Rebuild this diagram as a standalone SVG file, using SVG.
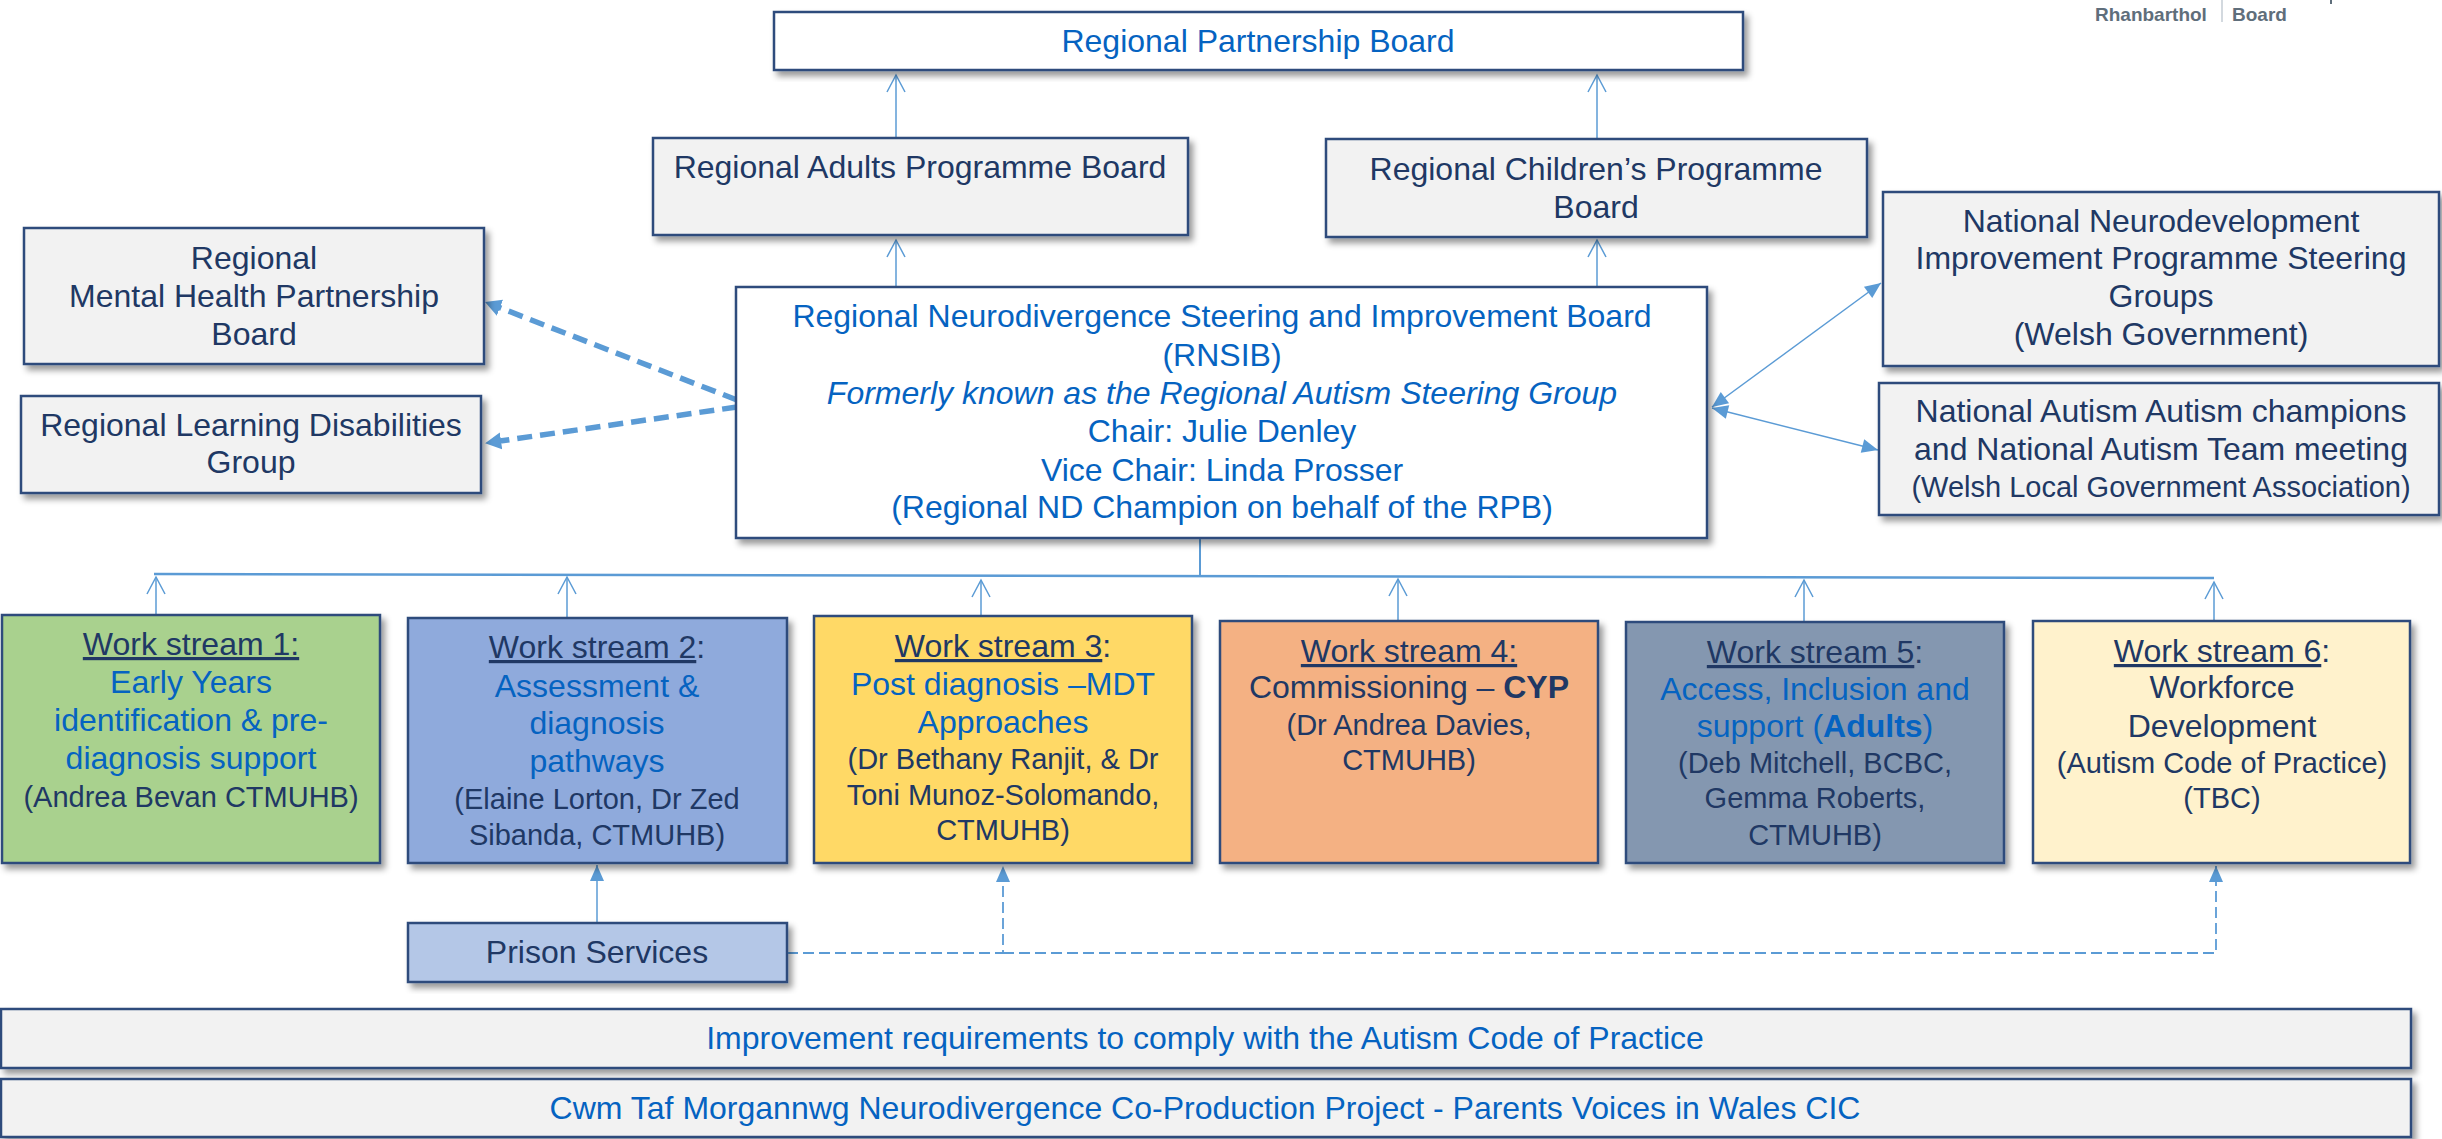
<svg xmlns="http://www.w3.org/2000/svg" width="2442" height="1139" viewBox="0 0 2442 1139">
  <defs>
    <filter id="sh" x="-5%" y="-10%" width="115%" height="130%">
      <feDropShadow dx="4" dy="5" stdDeviation="3" flood-color="#000" flood-opacity="0.4"/>
    </filter>
    <!-- open V head for the hierarchy lines -->
    <marker id="open" markerUnits="userSpaceOnUse" viewBox="-19 -11 21 22" markerWidth="21" markerHeight="22" refX="0" refY="0" orient="auto">
      <path d="M-17,-9 L0,0 L-17,9" fill="none" stroke="#5B9BD5" stroke-width="1.5"/>
    </marker>
    <!-- small filled head -->
    <marker id="fill" markerUnits="userSpaceOnUse" viewBox="-17 -9 18 18" markerWidth="18" markerHeight="18" refX="0" refY="0" orient="auto-start-reverse">
      <path d="M-16,-7 L0,0 L-16,7 Z" fill="#5B9BD5"/>
    </marker>
    <!-- large filled head for the thick dashed links -->
    <marker id="fat" markerUnits="userSpaceOnUse" viewBox="0 -10 18 20" markerWidth="18" markerHeight="20" refX="1" refY="0" orient="auto">
      <path d="M0,-8.5 L16,0 L0,8.5 Z" fill="#5B9BD5"/>
    </marker>
    <style>
      .box { stroke: #2F4B7C; stroke-width: 2.5; filter: url(#sh); }
      .w { fill: #FFFFFF; }
      .g { fill: #F2F2F2; }
      .t { font-family: "Liberation Sans", Arial, sans-serif; font-size: 32px; text-anchor: middle; }
      .s { font-size: 29px; }
      .b { fill: #0563C1; }
      .n { fill: #203864; }
      .u { text-decoration: underline; }
      .bold { font-weight: bold; }
      .ln { fill: none; stroke: #5B9BD5; stroke-width: 1.5; }
    </style>
  </defs>

  <!-- header mark -->
  <g id="header-mark" font-family="'Liberation Sans', Arial, sans-serif" font-weight="bold" font-size="19" fill="#5F6E7B">
    <text x="2095" y="21">Rhanbarthol</text>
    <line x1="2222" y1="0" x2="2222" y2="22" stroke="#C5CDD5" stroke-width="1.5"/>
    <text x="2232" y="21">Board</text>
    <rect x="2330" y="0" width="2" height="4"/>
  </g>

  <!-- connectors -->
  <g id="connectors">
    <path class="ln" d="M896,137 V75" marker-end="url(#open)"/>
    <path class="ln" d="M896,287 V240" marker-end="url(#open)"/>
    <path class="ln" d="M1597,139 V75" marker-end="url(#open)"/>
    <path class="ln" d="M1597,287 V240" marker-end="url(#open)"/>

    <path d="M737,400 L499,307.4" fill="none" stroke="#5B9BD5" stroke-width="5.5" stroke-dasharray="15 8" marker-end="url(#fat)"/>
    <path d="M737,407 L500,441" fill="none" stroke="#5B9BD5" stroke-width="5.5" stroke-dasharray="15 8" marker-end="url(#fat)"/>

    <path class="ln" d="M1712,407 L1881,283" marker-start="url(#fill)" marker-end="url(#fill)"/>
    <path class="ln" d="M1712,408 L1878,450" marker-start="url(#fill)" marker-end="url(#fill)"/>

    <path d="M1200,538 V575" fill="none" stroke="#5B9BD5" stroke-width="2"/>
    <path d="M154,574 L2214,578" fill="none" stroke="#5B9BD5" stroke-width="2.5"/>
    <path class="ln" d="M156,615 V577" marker-end="url(#open)"/>
    <path class="ln" d="M567,618 V577" marker-end="url(#open)"/>
    <path class="ln" d="M981,616 V580" marker-end="url(#open)"/>
    <path class="ln" d="M1398,621 V579" marker-end="url(#open)"/>
    <path class="ln" d="M1804,622 V580" marker-end="url(#open)"/>
    <path class="ln" d="M2214,621 V582" marker-end="url(#open)"/>

    <path class="ln" d="M597,923 V865" marker-end="url(#fill)"/>
    <path d="M787,953 H1003 V866" fill="none" stroke="#5B9BD5" stroke-width="1.8" stroke-dasharray="11 5" marker-end="url(#fill)"/>
    <path d="M1003,953 H2216 V866" fill="none" stroke="#5B9BD5" stroke-width="1.8" stroke-dasharray="11 5" marker-end="url(#fill)"/>
  </g>

  <g id="regional-partnership-board">
    <rect class="box w" x="774" y="12" width="969" height="58"/>
    <text class="t b" x="1258" y="52">Regional Partnership Board</text>
  </g>

  <g id="regional-adults-programme-board">
    <rect class="box g" x="653" y="138" width="535" height="97"/>
    <text class="t n" x="920" y="178">Regional Adults Programme Board</text>
  </g>

  <g id="regional-childrens-programme-board">
    <rect class="box g" x="1326" y="139" width="541" height="98"/>
    <text class="t n" x="1596" y="180">Regional Children’s Programme</text>
    <text class="t n" x="1596" y="218">Board</text>
  </g>

  <g id="mental-health-partnership-board">
    <rect class="box g" x="24" y="228" width="460" height="136"/>
    <text class="t n" x="254" y="269">Regional</text>
    <text class="t n" x="254" y="307">Mental Health Partnership</text>
    <text class="t n" x="254" y="345">Board</text>
  </g>

  <g id="learning-disabilities-group">
    <rect class="box g" x="21" y="396" width="460" height="97"/>
    <text class="t n" x="251" y="436">Regional Learning Disabilities</text>
    <text class="t n" x="251" y="473">Group</text>
  </g>

  <g id="rnsib">
    <rect class="box w" x="736" y="287" width="971" height="251"/>
    <text class="t b" x="1222" y="327">Regional Neurodivergence Steering and Improvement Board</text>
    <text class="t b" x="1222" y="366">(RNSIB)</text>
    <text class="t b" x="1222" y="404" font-style="italic">Formerly known as the Regional Autism Steering Group</text>
    <text class="t b" x="1222" y="442">Chair: Julie Denley</text>
    <text class="t b" x="1222" y="481">Vice Chair: Linda Prosser</text>
    <text class="t b" x="1222" y="518">(Regional ND Champion on behalf of the RPB)</text>
  </g>

  <g id="national-neurodevelopment">
    <rect class="box g" x="1883" y="192" width="556" height="174"/>
    <text class="t n" x="2161" y="232">National Neurodevelopment</text>
    <text class="t n" x="2161" y="269">Improvement Programme Steering</text>
    <text class="t n" x="2161" y="307">Groups</text>
    <text class="t n" x="2161" y="345">(Welsh Government)</text>
  </g>

  <g id="national-autism-champions">
    <rect class="box g" x="1879" y="383" width="560" height="132"/>
    <text class="t n" x="2161" y="422">National Autism Autism champions</text>
    <text class="t n" x="2161" y="460">and National Autism Team meeting</text>
    <text class="t n s" x="2161" y="497">(Welsh Local Government Association)</text>
  </g>

  <g id="work-stream-1">
    <rect class="box" fill="#A9D18E" x="2" y="615" width="378" height="248"/>
    <text class="t n" x="191" y="655"><tspan class="u">Work stream 1:</tspan></text>
    <text class="t b" x="191" y="693">Early Years</text>
    <text class="t b" x="191" y="731">identification &amp; pre-</text>
    <text class="t b" x="191" y="769">diagnosis support</text>
    <text class="t n s" x="191" y="807">(Andrea Bevan CTMUHB)</text>
  </g>

  <g id="work-stream-2">
    <rect class="box" fill="#8FAADC" x="408" y="618" width="379" height="245"/>
    <text class="t n" x="597" y="658"><tspan class="u">Work stream 2</tspan>:</text>
    <text class="t b" x="597" y="697">Assessment &amp;</text>
    <text class="t b" x="597" y="734">diagnosis</text>
    <text class="t b" x="597" y="772">pathways</text>
    <text class="t n s" x="597" y="809">(Elaine Lorton, Dr Zed</text>
    <text class="t n s" x="597" y="845">Sibanda, CTMUHB)</text>
  </g>

  <g id="work-stream-3">
    <rect class="box" fill="#FFD966" x="814" y="616" width="378" height="247"/>
    <text class="t n" x="1003" y="657"><tspan class="u">Work stream 3</tspan>:</text>
    <text class="t b" x="1003" y="695">Post diagnosis –MDT</text>
    <text class="t b" x="1003" y="733">Approaches</text>
    <text class="t n s" x="1003" y="769">(Dr Bethany Ranjit, &amp; Dr</text>
    <text class="t n s" x="1003" y="805">Toni Munoz-Solomando,</text>
    <text class="t n s" x="1003" y="840">CTMUHB)</text>
  </g>

  <g id="work-stream-4">
    <rect class="box" fill="#F4B183" x="1220" y="621" width="378" height="242"/>
    <text class="t n" x="1409" y="662"><tspan class="u">Work stream 4:</tspan></text>
    <text class="t n" x="1409" y="698">Commissioning – <tspan class="bold">CYP</tspan></text>
    <text class="t n s" x="1409" y="735">(Dr Andrea Davies,</text>
    <text class="t n s" x="1409" y="770">CTMUHB)</text>
  </g>

  <g id="work-stream-5">
    <rect class="box" fill="#8497B0" x="1626" y="622" width="378" height="241"/>
    <text class="t n" x="1815" y="663"><tspan class="u">Work stream 5</tspan>:</text>
    <text class="t b" x="1815" y="700">Access, Inclusion and</text>
    <text class="t b" x="1815" y="737">support (<tspan class="bold">Adults</tspan>)</text>
    <text class="t n s" x="1815" y="773">(Deb Mitchell, BCBC,</text>
    <text class="t n s" x="1815" y="808">Gemma Roberts,</text>
    <text class="t n s" x="1815" y="845">CTMUHB)</text>
  </g>

  <g id="work-stream-6">
    <rect class="box" fill="#FFF2CC" x="2033" y="621" width="377" height="242"/>
    <text class="t n" x="2222" y="662"><tspan class="u">Work stream 6</tspan>:</text>
    <text class="t n" x="2222" y="698">Workforce</text>
    <text class="t n" x="2222" y="737">Development</text>
    <text class="t n s" x="2222" y="773">(Autism Code of Practice)</text>
    <text class="t n s" x="2222" y="808">(TBC)</text>
  </g>

  <g id="prison-services">
    <rect class="box" fill="#B4C7E7" x="408" y="923" width="379" height="59"/>
    <text class="t n" x="597" y="963">Prison Services</text>
  </g>

  <g id="improvement-requirements">
    <rect class="box g" x="1" y="1009" width="2410" height="59"/>
    <text class="t b" x="1205" y="1049">Improvement requirements to comply with the Autism Code of Practice</text>
  </g>

  <g id="co-production-project">
    <rect class="box g" x="1" y="1079" width="2410" height="58"/>
    <text class="t b" x="1205" y="1119">Cwm Taf Morgannwg Neurodivergence Co-Production Project - Parents Voices in Wales CIC</text>
  </g>
</svg>
